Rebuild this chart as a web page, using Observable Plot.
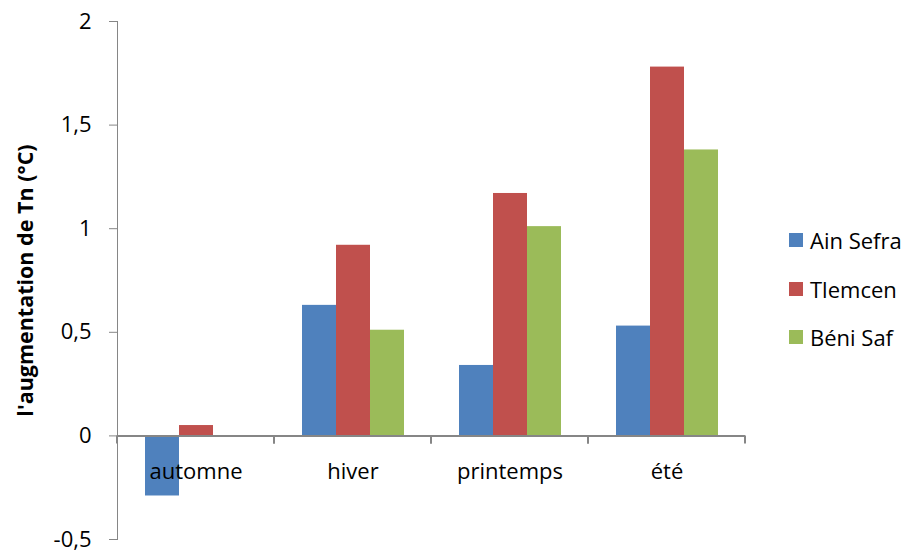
<!DOCTYPE html>
<html>
<head>
<meta charset="utf-8">
<script src="https://cdn.jsdelivr.net/npm/d3@7"></script>
<script src="https://cdn.jsdelivr.net/npm/@observablehq/plot@0.6"></script>
<style>
  html, body { margin: 0; padding: 0; background: #fff; }
  #chart { position: relative; width: 909px; height: 551px; font-family: "Open Sans", sans-serif; }
  #chart svg { color: #868686; }
  #chart svg text { fill: #000; }
  #chart svg g[aria-label="y-axis label"] text { font-weight: bold; font-size: 21.5px; }
  #legend { position: absolute; left: 789px; top: 216px; font-size: 22px; color: #000; }
  #legend .item { display: flex; align-items: center; height: 48.5px; }
  #legend .swatch { width: 14px; height: 14px; margin-right: 7px; }
</style>
</head>
<body>
<div id="chart"><div id="legend"></div></div>
<script>
// Seasonal increase of minimum temperature (Tn, °C) at three stations
const seasons = ["automne", "hiver", "printemps", "été"];
const stations = ["Ain Sefra", "Tlemcen", "Béni Saf"];
const ainSefra = [-0.29, 0.63, 0.34, 0.53];
const tlemcen = [0.05, 0.92, 1.17, 1.78];
const beniSaf = [0, 0.51, 1.01, 1.38];
const colors = ["#4F81BD", "#C0504D", "#9BBB59"];
const yTicks = [-0.5, 0, 0.5, 1, 1.5, 2];
const yTickLabels = ["-0,5", "0", "0,5", "1", "1,5", "2"];

const series = [ainSefra, tlemcen, beniSaf];
const rows = seasons.flatMap((season, i) =>
  stations.map((station, j) => ({season, station, value: series[j][i]}))
);

// short ticks on the category axis, at both edges of each season band
const categoryTicks = Plot.ruleY([0], {
  render(index, scales) {
    const [x0, x1] = scales.x.range();
    const y0 = scales.y(0);
    const g = d3.create("svg:g").attr("aria-label", "category ticks");
    for (const x of [x0, x1]) {
      g.append("line")
        .attr("x1", x).attr("x2", x)
        .attr("y1", y0).attr("y2", y0 + 8)
        .attr("stroke", "#868686").attr("stroke-width", 2);
    }
    return g.node();
  }
});

const chart = Plot.plot({
  width: 909,
  height: 551,
  marginLeft: 115,
  marginRight: 163,
  marginTop: 21,
  marginBottom: 12,
  style: {fontFamily: "Open Sans, sans-serif", fontSize: "22px", background: "#fff", overflow: "visible"},
  fx: {domain: seasons, padding: 0, axis: null},
  x: {domain: stations, paddingInner: 0, paddingOuter: 0.75, axis: null},
  y: {
    domain: [-0.5, 2],
    ticks: yTicks,
    tickFormat: (d) => yTickLabels[yTicks.indexOf(d)],
    tickSize: 8,
    tickPadding: 18,
    line: true,
    label: "l'augmentation de Tn (°C)",
    labelAnchor: "center",
    labelArrow: "none",
    labelOffset: 100
  },
  color: {domain: stations, range: colors},
  marks: [
    Plot.barY(rows, {fx: "season", x: "station", y: "value", fill: "station"}),
    Plot.ruleY([0], {stroke: "#868686", strokeWidth: 2}),
    categoryTicks,
    Plot.text(seasons, {fx: (d) => d, y: 0, text: (d) => d, dy: 36, fill: "#000", fontSize: 22})
  ]
});
document.getElementById("chart").prepend(chart);

// legend to the right of the plot
const legend = d3.select("#legend");
stations.forEach((s, i) => {
  const item = legend.append("div").attr("class", "item");
  item.append("div").attr("class", "swatch").style("background", colors[i]);
  item.append("span").text(s);
});
</script>
</body>
</html>
